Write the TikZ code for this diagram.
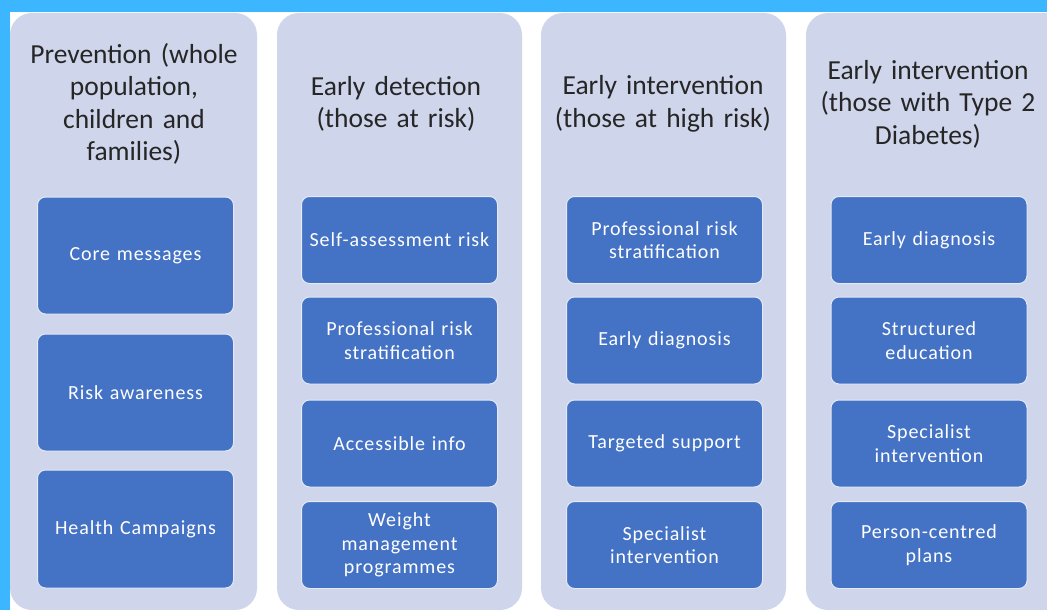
\documentclass[tikz,border=0pt]{standalone}
\usepackage{fontspec}
\setmainfont{Carlito}
\newfontfamily\boxfont[LetterSpace=4.5]{Carlito}
\definecolor{frameblue}{HTML}{3CB6FF}
\definecolor{colfill}{HTML}{CFD5EA}
\definecolor{boxblue}{HTML}{4472C4}
\definecolor{titletext}{HTML}{262626}
\tikzset{
  column/.style={fill=colfill, rounded corners=22pt},
  title/.style={text=titletext, font=\fontsize{27.5}{32.5}\selectfont, align=center, text width=244pt, inner sep=0pt},
  itembox/.style={draw=white!85!boxblue, line width=1pt, fill=boxblue, rounded corners=8pt, text=white,
    font=\boxfont\fontsize{20}{23.5}\selectfont, align=center, inner sep=2pt, minimum width=195pt, text width=192pt},
}
\begin{document}
\begin{tikzpicture}[x=1pt,y=-1pt]
\useasboundingbox (0,0) rectangle (1047,610);
\begin{scope}
\clip (0,0) rectangle (1047,610);
\fill[white] (0,0) rectangle (1047,610);
\fill[frameblue] (0,0) rectangle (1047,12.5);
\fill[frameblue] (0,0) rectangle (9.5,610);
\fill[column] (10,13) rectangle (257,610);
\fill[column] (277,13) rectangle (522,610);
\fill[column] (541,13) rectangle (786,610);
\fill[column] (806,13) rectangle (1080,610);
\end{scope}
% titles
\node[title] (t1) at (134,104) {Prevention (whole\\population,\\children and\\families)};
\node[title] (t2) at (396,104) {Early detection\\(those at risk)};
\node[title] (t3) at (663,104) {Early intervention\\(those at high risk)};
\node[title] (t4) at (928,104) {Early intervention\\(those with Type 2\\Diabetes)};
% column 1
\node[itembox, minimum height=117pt] (a1) at (135.5,255.5) {Core messages};
\node[itembox, minimum height=117pt] (a2) at (135.5,392.5) {Risk awareness};
\node[itembox, minimum height=118pt] (a3) at (135.5,529) {Health Campaigns};
% column 2
\node[itembox, minimum height=87pt] (b1) at (399.5,240) {Self-assessment risk};
\node[itembox, minimum height=87pt] (b2) at (399.5,340.5) {Professional risk\\stratification};
\node[itembox, minimum height=87pt] (b3) at (399.5,443.5) {Accessible info};
\node[itembox, minimum height=87pt] (b4) at (399.5,545) {Weight\\management\\programmes};
% column 3
\node[itembox, minimum height=87pt] (c1) at (664.5,240) {Professional risk\\stratification};
\node[itembox, minimum height=87pt] (c2) at (664.5,340.5) {Early diagnosis};
\node[itembox, minimum height=87pt] (c3) at (664.5,443.5) {Targeted support};
\node[itembox, minimum height=87pt] (c4) at (664.5,545) {Specialist\\intervention};
% column 4
\node[itembox, minimum height=87pt] (d1) at (929,240) {Early diagnosis};
\node[itembox, minimum height=87pt] (d2) at (929,340.5) {Structured\\education};
\node[itembox, minimum height=87pt] (d3) at (929,443.5) {Specialist\\intervention};
\node[itembox, minimum height=87pt] (d4) at (929,545) {Person-centred\\plans};
\end{tikzpicture}
\end{document}
